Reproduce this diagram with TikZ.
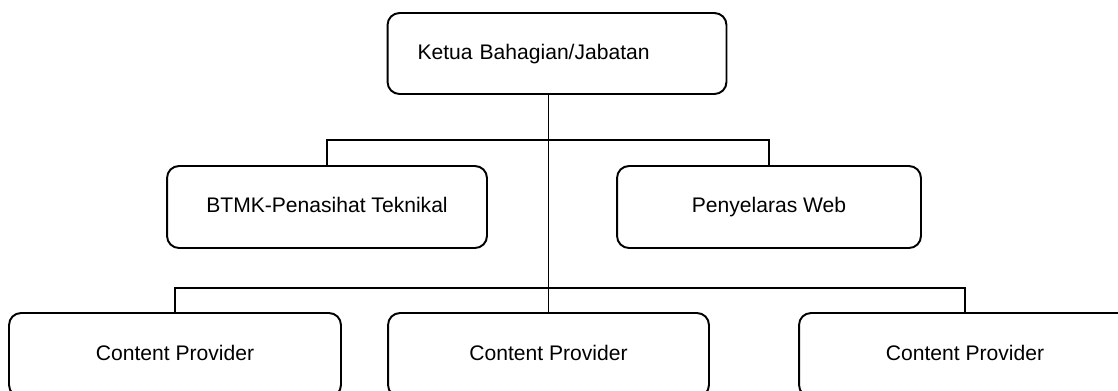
\documentclass[tikz,border=0pt]{standalone}
\usepackage{fontspec}
\setmainfont{Liberation Sans}
\usepackage{tikz}
\usetikzlibrary{positioning}

\begin{document}
\begin{tikzpicture}[
  x=0.02cm, y=-0.02cm,
  box/.style={rectangle, rounded corners=0.24cm, draw, line width=1.1pt,
              minimum height=1.64cm, align=center, inner sep=0pt,
              text height=9pt, text depth=2.6pt,
              font=\fontsize{12}{14}\selectfont},
  headbox/.style={box, minimum height=1.62cm, text width=5.58cm,
                  inner xsep=0.6cm, align=left},
  cpbox/.style={box, minimum width=6.64cm, minimum height=1.68cm},
  link/.style={line width=1pt}
]
\useasboundingbox (0,0) rectangle (1118,390);
\clip (0,0) rectangle (1118,390);

\node[headbox] (ketua) at (557,53.5) {Ketua Bahagian/Jabatan};
\node[box, minimum width=6.4cm] (btmk) at (327,207) {BTMK-Penasihat Teknikal};
\node[box, minimum width=6.08cm] (web) at (769,207) {Penyelaras Web};
\node[cpbox] (cp1) at (175,355) {Content Provider};
\node[cpbox, minimum width=6.42cm] (cp2) at (548.5,355) {Content Provider};
\node[cpbox] (cp3) at (965,355) {Content Provider};

\coordinate (bar1) at (549,140);
\coordinate (bar2) at (549,288);

\draw[link] (cp2.north |- ketua.south) -- (cp2.north);
\draw[link] (btmk.north) |- (bar1) -| (web.north);
\draw[link] (cp1.north) |- (bar2) -| (cp3.north);

\end{tikzpicture}
\end{document}
